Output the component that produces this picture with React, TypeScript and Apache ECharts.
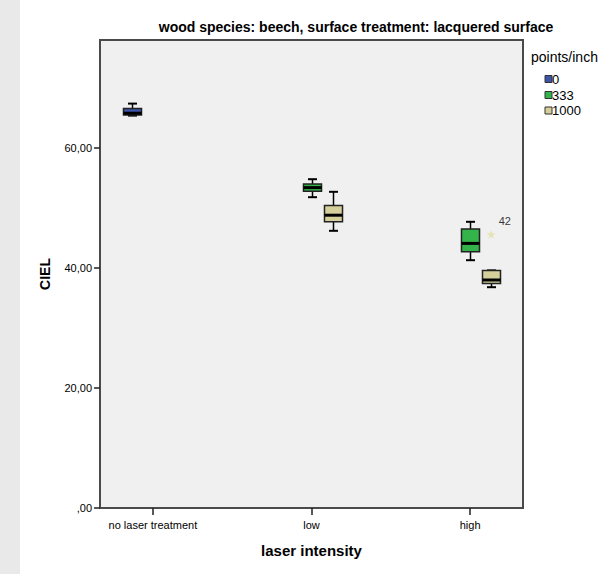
import React, { useEffect, useRef } from "react";
import * as echarts from "echarts";

const categories = ["no laser treatment", "low", "high"];
const seriesNames = ["0", "333", "1000"];
const seriesColors = ["#3d55a8", "#33b34a", "#d5cf9b"];
// [categoryIndex, min, Q1, median, Q3, max]
const boxes0 = [[0, 65.4, 65.5, 65.8, 66.6, 67.4]];
const boxes333 = [
  [1, 51.8, 52.8, 53.4, 54.0, 54.8],
  [2, 41.3, 42.7, 44.1, 46.5, 47.7],
];
const boxes1000 = [
  [1, 46.2, 47.7, 48.8, 50.4, 52.7],
  [2, 36.8, 37.4, 38.0, 39.6, 39.6],
];
const outliers1000 = [[2, 45.6, "42"]];
const yTicks = [0, 20, 40, 60];

const OFFSETS = [-0.1325, 0, 0.1325];
const BOX_W = 0.1136;

function makeBoxSeries(name: string, data: number[][], idx: number) {
  const off = OFFSETS[idx];
  const color = seriesColors[idx];
  return {
    type: "custom",
    name,
    data,
    renderItem: (params: any, api: any) => {
      const x = api.value(0) + off;
      const vMin = api.value(1);
      const q1 = api.value(2);
      const med = api.value(3);
      const q3 = api.value(4);
      const vMax = api.value(5);
      const w = api.size([BOX_W, 0])[0];
      const pMin = api.coord([x, vMin]);
      const pQ1 = api.coord([x, q1]);
      const pMed = api.coord([x, med]);
      const pQ3 = api.coord([x, q3]);
      const pMax = api.coord([x, vMax]);
      const cx = Math.round(pMin[0]) + 0.5;
      const half = w / 2;
      const capHalf = w / 4;
      const lineStyle = { stroke: "#000", lineWidth: 1.5 };
      return {
        type: "group",
        children: [
          { type: "line", shape: { x1: cx, y1: pMax[1], x2: cx, y2: pQ3[1] }, style: lineStyle },
          { type: "line", shape: { x1: cx, y1: pQ1[1], x2: cx, y2: pMin[1] }, style: lineStyle },
          { type: "line", shape: { x1: cx - capHalf, y1: pMax[1], x2: cx + capHalf, y2: pMax[1] }, style: { stroke: "#000", lineWidth: 2 } },
          { type: "line", shape: { x1: cx - capHalf, y1: pMin[1], x2: cx + capHalf, y2: pMin[1] }, style: { stroke: "#000", lineWidth: 2 } },
          {
            type: "rect",
            shape: { x: cx - half, y: pQ3[1], width: w, height: Math.max(pQ1[1] - pQ3[1], 1) },
            style: { fill: color, stroke: "#222", lineWidth: 1.5 },
          },
          { type: "line", shape: { x1: cx - half, y1: pMed[1], x2: cx + half, y2: pMed[1] }, style: { stroke: "#000", lineWidth: 3 } },
        ],
      };
    },
    z: 3,
  };
}

export default function App() {
  const ref = useRef<HTMLDivElement>(null);
  useEffect(() => {
    if (!ref.current) return;
    const chart = echarts.init(ref.current, null, { renderer: "svg" });
    const font = "Liberation Sans, Arial, sans-serif";
    const legendChildren: any[] = [
      {
        type: "text",
        x: 531,
        y: 57,
        style: { text: "points/inch", font: `14px ${font}`, fill: "#000", textVerticalAlign: "middle" },
      },
    ];
    const rowY = [79, 95, 110.5];
    seriesNames.forEach((n, i) => {
      const y = rowY[i];
      legendChildren.push({
        type: "rect",
        shape: { x: 545, y: y - 3.5, width: 7, height: 7 },
        style: { fill: seriesColors[i], stroke: "#333", lineWidth: 1 },
      });
      legendChildren.push({
        type: "text",
        x: 552,
        y: y,
        style: { text: n, font: `13px ${font}`, fill: "#000", textVerticalAlign: "middle" },
      });
    });
    chart.setOption({
      animation: false,
      backgroundColor: "#ffffff",
      textStyle: { fontFamily: font },
      grid: {
        left: 100,
        top: 40,
        width: 423,
        height: 468,
        show: true,
        backgroundColor: "#f0f0f0",
        borderColor: "#4a4a4a",
        borderWidth: 2,
      },
      xAxis: {
        type: "value",
        min: -1 / 3,
        max: 7 / 3,
        splitLine: { show: false },
        axisLine: { show: true, onZero: false, lineStyle: { color: "#4a4a4a", width: 2 } },
        axisTick: { show: true, customValues: [0, 1, 2], length: 7, lineStyle: { color: "#222", width: 1.5 } },
        axisLabel: {
          customValues: [0, 1, 2],
          formatter: (v: number) => categories[Math.round(v)] ?? "",
          color: "#000",
          fontSize: 11,
          margin: 11,
        },
        name: "laser intensity",
        nameLocation: "middle",
        nameGap: 35,
        nameTextStyle: { fontSize: 15, fontWeight: "bold", color: "#000" },
      },
      yAxis: {
        type: "value",
        min: 0,
        max: 78,
        splitLine: { show: false },
        axisLine: { show: true, onZero: false, lineStyle: { color: "#4a4a4a", width: 2 } },
        axisTick: { show: true, customValues: yTicks, length: 6, lineStyle: { color: "#222", width: 1.5 } },
        axisLabel: {
          customValues: yTicks,
          formatter: (v: number) => (v === 0 ? ",00" : `${v},00`),
          color: "#000",
          fontSize: 11,
          margin: 8,
        },
        name: "CIEL",
        nameLocation: "middle",
        nameGap: 48,
        nameTextStyle: { fontSize: 14, fontWeight: "bold", color: "#000" },
      },
      graphic: [
        { type: "rect", left: 0, top: 0, shape: { x: 0, y: 0, width: 20, height: 574 }, style: { fill: "#e9e9e9" }, z: -10 },
        {
          type: "text",
          x: 356,
          y: 27,
          style: {
            text: "wood species: beech, surface treatment: lacquered surface",
            font: `bold 14px ${font}`,
            fill: "#000",
            textAlign: "center",
            textVerticalAlign: "middle",
          },
        },
        ...legendChildren,
      ],
      series: [
        makeBoxSeries(seriesNames[0], boxes0, 0),
        makeBoxSeries(seriesNames[1], boxes333, 1),
        makeBoxSeries(seriesNames[2], boxes1000, 2),
        {
          type: "scatter",
          name: "outliers",
          data: outliers1000.map((d) => [(d[0] as number) + OFFSETS[2], d[1], d[2]]),
          symbol: "path://M0,-10 L2.35,-3.24 L9.51,-3.09 L3.8,1.24 L5.88,8.09 L0,4 L-5.88,8.09 L-3.8,1.24 L-9.51,-3.09 L-2.35,-3.24 Z",
          symbolSize: 9,
          itemStyle: { color: "#e3deaa" },
          label: {
            show: true,
            formatter: (p: any) => p.value[2],
            position: [12, -14],
            color: "#000",
            fontSize: 11,
          },
          z: 4,
        },
      ],
    });
    return () => chart.dispose();
  }, []);
  return <div ref={ref} style={{ position: "absolute", left: 0, top: 0, width: 606, height: 574 }} />;
}
